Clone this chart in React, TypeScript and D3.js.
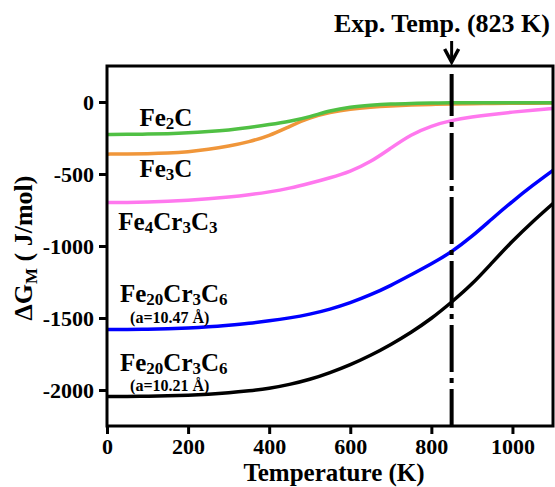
import React, { useEffect, useRef } from 'react';
import * as d3 from 'd3';

// temperatures (K) shared by every curve
const temps = [0, 50, 100, 150, 200, 250, 300, 350, 400, 450, 500, 550, 600, 650, 700, 750, 800, 850, 900, 950, 1000, 1050, 1100];

const fe2c = [-225, -225, -223, -220, -215, -206, -195, -178, -157, -135, -103, -60, -34, -22, -14, -10, -7, -6, -5, -5, -5, -5, -5];
const fe3c = [-362, -361, -359, -355, -346, -330, -307, -277, -235, -170, -108, -72, -48, -35, -27, -21, -17, -14, -12, -10, -9, -8, -7];
const fe4cr3c3 = [-698, -698, -695, -690, -682, -672, -660, -645, -625, -600, -565, -527, -483, -417, -320, -225, -165, -127, -104, -86, -70, -56, -45];
const fe20a1047 = [-1580, -1580, -1578, -1575, -1570, -1562, -1550, -1537, -1520, -1500, -1475, -1440, -1395, -1340, -1275, -1200, -1125, -1042, -935, -810, -690, -578, -475];
const fe20a1021 = [-2045, -2045, -2043, -2041, -2037, -2030, -2020, -2006, -1990, -1962, -1928, -1880, -1825, -1760, -1685, -1600, -1505, -1390, -1268, -1115, -965, -830, -705];

const xTicks = [0, 200, 400, 600, 800, 1000];
const yTicks = [0, -500, -1000, -1500, -2000];
const expTemp = 850;

const App = () => {
  const svgRef = useRef<SVGSVGElement>(null);

  useEffect(() => {
    const width = 555;
    const height = 487;
    const margin = { top: 66, right: 2, bottom: 61, left: 107 };
    const font = '"Liberation Serif", "Times New Roman", serif';

    d3.select(svgRef.current).selectAll('*').remove();
    const svg = d3.select(svgRef.current)
      .attr('width', width)
      .attr('height', height)
      .attr('font-family', font)
      .attr('font-weight', 'bold');

    const x = d3.scaleLinear().domain([0, 1100]).range([margin.left, width - margin.right]);
    const y = d3.scaleLinear().domain([-2250, 250]).range([height - margin.bottom, margin.top]);

    const series = [
      { values: fe4cr3c3, color: '#ff78ee' },
      { values: fe3c, color: '#f0963a' },
      { values: fe2c, color: '#50c044' },
      { values: fe20a1047, color: '#0000ff' },
      { values: fe20a1021, color: '#000000' },
    ];

    const line = d3.line<number>()
      .x((_, i) => x(temps[i]))
      .y(d => y(d))
      .curve(d3.curveBasis);

    series.forEach(s => {
      svg.append('path')
        .attr('d', line(s.values))
        .attr('fill', 'none')
        .attr('stroke', s.color)
        .attr('stroke-width', 3.5);
    });

    // experiment temperature marker
    svg.append('line')
      .attr('x1', x(expTemp)).attr('x2', x(expTemp))
      .attr('y1', margin.top + 8).attr('y2', height - margin.bottom)
      .attr('stroke', '#000')
      .attr('stroke-width', 4)
      .attr('stroke-dasharray', '47,6,5,6')
      .attr('stroke-dashoffset', 5);

    // frame
    svg.append('rect')
      .attr('x', margin.left).attr('y', margin.top)
      .attr('width', width - margin.right - margin.left)
      .attr('height', height - margin.bottom - margin.top)
      .attr('fill', 'none')
      .attr('stroke', '#000')
      .attr('stroke-width', 3);

    // x axis
    const xAxis = svg.append('g')
      .attr('transform', `translate(0,${height - margin.bottom})`)
      .call(d3.axisBottom(x).tickValues(xTicks).tickSize(8).tickPadding(4).tickFormat(d3.format('d')));
    xAxis.select('.domain').remove();
    xAxis.selectAll('line').attr('stroke-width', 3);
    xAxis.selectAll('text')
      .attr('font-size', 22)
      .attr('font-family', font)
      .attr('font-weight', 'bold')
      .attr('fill', '#000');

    // y axis
    const yAxis = svg.append('g')
      .attr('transform', `translate(${margin.left},0)`)
      .call(d3.axisLeft(y).tickValues(yTicks).tickSize(8).tickPadding(5).tickFormat(d => `${d}`));
    yAxis.select('.domain').remove();
    yAxis.selectAll('line').attr('stroke-width', 3);
    yAxis.selectAll('text')
      .attr('font-size', 22)
      .attr('font-family', font)
      .attr('font-weight', 'bold')
      .attr('fill', '#000');

    // axis labels
    svg.append('text')
      .attr('x', 334)
      .attr('y', 481)
      .attr('text-anchor', 'middle')
      .attr('font-size', 25)
      .attr('font-family', font)
      .text('Temperature (K)');

    const yl = svg.append('text')
      .attr('transform', `translate(32,${(margin.top + height - margin.bottom) / 2 + 2}) rotate(-90)`)
      .attr('text-anchor', 'middle')
      .attr('font-family', font)
      .attr('font-size', 26);
    yl.append('tspan').text('ΔG');
    yl.append('tspan').attr('dy', 5).attr('font-size', 17).text('M');
    yl.append('tspan').attr('dy', -5).text(' ( J/mol)');

    // title + arrow
    svg.append('text')
      .attr('x', 442)
      .attr('y', 32)
      .attr('text-anchor', 'middle')
      .attr('font-size', 26)
      .attr('font-family', font)
      .text('Exp. Temp. (823 K)');

    svg.append('line')
      .attr('x1', x(expTemp)).attr('x2', x(expTemp))
      .attr('y1', 41).attr('y2', 61)
      .attr('stroke', '#000').attr('stroke-width', 3);
    svg.append('path')
      .attr('d', `M${x(expTemp) - 7},${49} L${x(expTemp)},${62} L${x(expTemp) + 7},${49}`)
      .attr('fill', 'none')
      .attr('stroke', '#000')
      .attr('stroke-width', 3.5);

    // curve labels
    const formula = (tx: number, ty: number, parts: [string, boolean][]) => {
      const t = svg.append('text')
        .attr('x', x(tx)).attr('y', y(ty))
        .attr('font-size', 25)
        .attr('font-family', font);
      let down = false;
      parts.forEach(([s, sub]) => {
        const ts = t.append('tspan').text(s);
        if (sub) {
          ts.attr('font-size', 17);
          if (!down) { ts.attr('dy', 3); down = true; }
        } else if (down) {
          ts.attr('dy', -3);
          down = false;
        }
      });
    };

    formula(80, -170, [['Fe', false], ['2', true], ['C', false]]);
    formula(80, -523, [['Fe', false], ['3', true], ['C', false]]);
    formula(28, -891, [['Fe', false], ['4', true], ['Cr', false], ['3', true], ['C', false], ['3', true]]);
    formula(32, -1390, [['Fe', false], ['20', true], ['Cr', false], ['3', true], ['C', false], ['6', true]]);
    formula(32, -1868, [['Fe', false], ['20', true], ['Cr', false], ['3', true], ['C', false], ['6', true]]);

    svg.append('text').attr('x', x(57)).attr('y', y(-1537)).attr('font-size', 16).attr('font-family', font).text('(a=10.47 Å)');
    svg.append('text').attr('x', x(57)).attr('y', y(-2008)).attr('font-size', 16).attr('font-family', font).text('(a=10.21 Å)');
  }, []);

  return (
    <svg ref={svgRef} style={{ position: 'absolute', left: 0, top: 0 }}></svg>
  );
};

export default App;
